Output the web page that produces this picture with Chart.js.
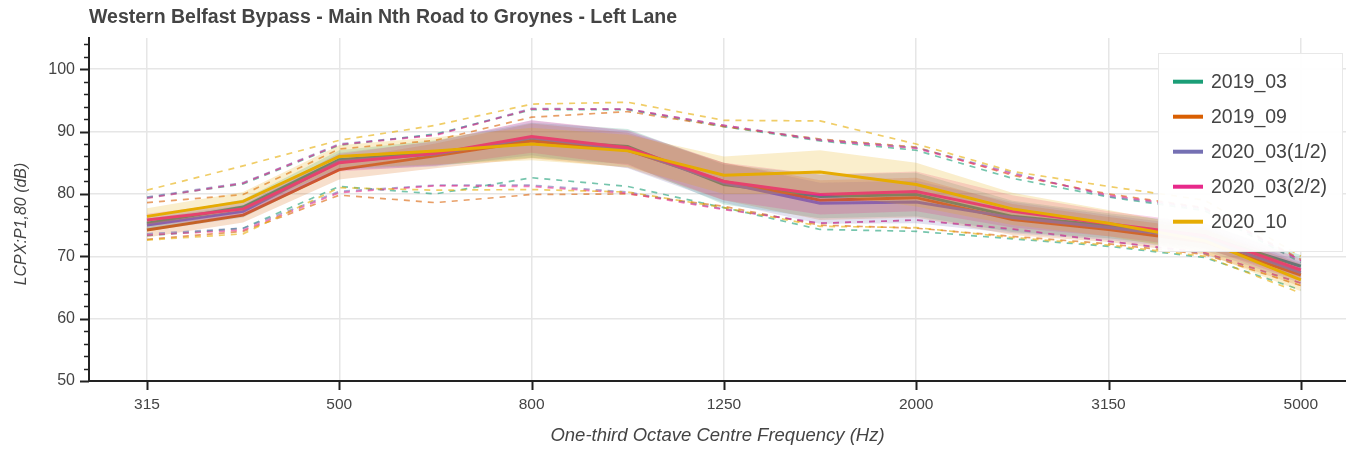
<!DOCTYPE html>
<html><head><meta charset="utf-8">
<script src="https://cdn.jsdelivr.net/npm/chart.js@4/dist/chart.umd.min.js"></script>
<style>html,body{margin:0;padding:0;background:#fff;}canvas{display:block;}</style>
</head><body>
<canvas id="c" width="1346" height="451"></canvas>
<script>
// ---------- text ----------
const TITLE = "Western Belfast Bypass - Main Nth Road to Groynes - Left Lane";
const X_TITLE = "One-third Octave Centre Frequency (Hz)";
const Y_TITLE = "LCPX:P1,80 (dB)";

// ---------- categories / ticks ----------
const categories = [315, 400, 500, 630, 800, 1000, 1250, 1600, 2000, 2500, 3150, 4000, 5000];
const xTickIndex = [0, 2, 4, 6, 8, 10, 12];
const yMajorTicks = [50, 60, 70, 80, 90, 100];
const yMinorTicks = [50,52,54,56,58,60,62,64,66,68,70,72,74,76,78,80,82,84,86,88,90,92,94,96,98,100,102,104];

// ---------- series ----------
const seriesNames = ["2019_03", "2019_09", "2020_03(1/2)", "2020_03(2/2)", "2020_10"];
const seriesColors = ["#1b9e77", "#d95f02", "#7570b3", "#e7298a", "#e6ab02"];

const mean_2019_03 = [75.3, 77.9, 85.5, 86.6, 88.6, 87.6, 81.5, 79.6, 79.9, 76.4, 74.9, 73.2, 68.4];
const bandHi_2019_03 = [76.3, 79.1, 87.0, 88.6, 91.4, 90.4, 84.7, 83.1, 83.4, 78.9, 76.9, 75.2, 70.2];
const bandLo_2019_03 = [74.3, 76.7, 84.0, 84.6, 85.8, 84.8, 78.3, 76.1, 76.4, 73.9, 72.9, 71.2, 66.6];
const max_2019_03 = [79.4, 81.6, 87.8, 89.6, 93.5, 93.5, 90.8, 88.5, 87.0, 82.5, 79.5, 77.3, 69.0];
const min_2019_03 = [73.3, 74.5, 81.2, 80.0, 82.6, 81.2, 77.8, 74.3, 74.0, 72.8, 71.6, 69.8, 64.6];

const mean_2019_09 = [74.2, 76.6, 83.9, 86.1, 88.5, 87.0, 82.0, 79.0, 79.4, 75.9, 74.3, 72.3, 67.0];
const bandHi_2019_09 = [75.4, 77.8, 85.5, 88.1, 91.3, 89.8, 85.0, 82.2, 82.6, 78.4, 76.3, 74.3, 68.8];
const bandLo_2019_09 = [73.0, 75.4, 82.3, 84.1, 85.7, 84.2, 79.0, 75.8, 76.2, 73.4, 72.3, 70.3, 65.2];
const max_2019_09 = [78.6, 79.9, 87.2, 88.6, 92.3, 93.2, 90.8, 88.8, 87.5, 83.0, 80.0, 77.8, 69.5];
const min_2019_09 = [72.7, 74.0, 79.8, 78.6, 79.9, 80.0, 78.0, 75.0, 74.5, 73.2, 72.0, 70.3, 65.3];

const mean_2020_03a = [75.0, 77.2, 85.2, 86.4, 89.0, 87.1, 81.8, 78.5, 78.7, 76.2, 74.6, 72.8, 67.4];
const bandHi_2020_03a = [76.0, 78.2, 86.6, 88.4, 91.8, 90.1, 85.0, 81.8, 82.1, 78.7, 76.6, 74.7, 69.1];
const bandLo_2020_03a = [74.0, 76.2, 83.8, 84.4, 86.2, 84.1, 78.6, 75.2, 75.3, 73.7, 72.6, 70.9, 65.7];
const max_2020_03a = [79.5, 81.8, 88.0, 89.5, 93.7, 93.6, 91.0, 88.7, 87.4, 83.4, 79.6, 77.6, 69.3];
const min_2020_03a = [73.6, 74.5, 80.4, 81.4, 81.4, 80.3, 77.6, 75.3, 75.8, 74.3, 72.4, 70.5, 65.7];

const mean_2020_03b = [75.8, 77.6, 85.0, 86.5, 89.2, 87.4, 82.0, 79.9, 80.4, 77.2, 75.2, 73.3, 67.8];
const bandHi_2020_03b = [76.8, 78.7, 86.4, 88.5, 91.8, 90.2, 85.0, 83.1, 83.6, 79.8, 77.2, 75.3, 69.6];
const bandLo_2020_03b = [74.8, 76.5, 83.6, 84.5, 86.6, 84.6, 79.0, 76.7, 77.2, 74.6, 73.2, 71.3, 66.0];
const max_2020_03b = [79.3, 81.7, 87.9, 89.4, 93.6, 93.6, 91.0, 88.6, 87.3, 83.2, 79.8, 77.7, 69.3];
const min_2020_03b = [73.4, 74.2, 80.2, 81.3, 81.2, 80.1, 77.5, 75.3, 75.8, 74.4, 72.4, 70.6, 65.7];

const mean_2020_10 = [76.4, 78.8, 86.0, 86.9, 88.0, 86.9, 83.0, 83.5, 81.5, 77.6, 75.3, 72.5, 66.2];
const bandHi_2020_10 = [77.7, 80.3, 87.8, 89.1, 90.6, 89.5, 86.0, 87.0, 85.0, 80.2, 77.4, 74.5, 68.0];
const bandLo_2020_10 = [75.1, 77.3, 84.2, 84.7, 85.4, 84.3, 80.0, 80.0, 78.0, 75.0, 73.2, 70.5, 64.4];
const max_2020_10 = [80.6, 84.5, 88.6, 91.0, 94.4, 94.7, 91.8, 91.7, 88.0, 83.6, 81.2, 79.0, 70.0];
const min_2020_10 = [72.6, 73.6, 81.0, 80.6, 80.7, 80.3, 77.8, 74.8, 74.6, 73.0, 71.8, 70.0, 64.1];

const seriesData = [
  {mean: mean_2019_03, hi: bandHi_2019_03, lo: bandLo_2019_03, max: max_2019_03, min: min_2019_03},
  {mean: mean_2019_09, hi: bandHi_2019_09, lo: bandLo_2019_09, max: max_2019_09, min: min_2019_09},
  {mean: mean_2020_03a, hi: bandHi_2020_03a, lo: bandLo_2020_03a, max: max_2020_03a, min: min_2020_03a},
  {mean: mean_2020_03b, hi: bandHi_2020_03b, lo: bandLo_2020_03b, max: max_2020_03b, min: min_2020_03b},
  {mean: mean_2020_10, hi: bandHi_2020_10, lo: bandLo_2020_10, max: max_2020_10, min: min_2020_10}
];

// ---------- build ----------
const FONT = "'Liberation Sans', Arial, Helvetica, sans-serif";
Chart.defaults.font.family = FONT;
function rgba(hex, a) {
  const n = parseInt(hex.slice(1), 16);
  return `rgba(${(n >> 16) & 255},${(n >> 8) & 255},${n & 255},${a})`;
}
const pts = arr => arr.map((v, i) => ({x: i, y: v}));

const datasets = [];
let ord = 1000;
seriesData.forEach((s, k) => {
  const c = seriesColors[k];
  const hiIdx = datasets.length;
  datasets.push({label: seriesNames[k] + " band", data: pts(s.hi), borderWidth: 0, pointRadius: 0,
    fill: {target: hiIdx + 1}, backgroundColor: rgba(c, 0.2), order: ord--});
  datasets.push({label: seriesNames[k] + " lo", data: pts(s.lo), borderWidth: 0, pointRadius: 0,
    fill: false, order: ord--});
  datasets.push({label: seriesNames[k], data: pts(s.mean), borderColor: c, borderWidth: 3,
    pointRadius: 0, fill: false, order: ord--});
  datasets.push({label: seriesNames[k] + " max", data: pts(s.max), borderColor: rgba(c, 0.6),
    borderWidth: 1.7, borderDash: [6, 6], pointRadius: 0, fill: false, order: ord--});
  datasets.push({label: seriesNames[k] + " min", data: pts(s.min), borderColor: rgba(c, 0.6),
    borderWidth: 1.7, borderDash: [6, 6], pointRadius: 0, fill: false, order: ord--});
});

const decor = {
  id: 'decor',
  afterDraw(chart) {
    const {ctx, chartArea: a, scales: {x, y}} = chart;
    ctx.save();
    // axis ticks
    ctx.strokeStyle = '#222';
    yMinorTicks.forEach(v => {
      const py = Math.round(y.getPixelForValue(v)) + 0.5;
      const major = yMajorTicks.includes(v);
      ctx.lineWidth = major ? 2 : 1.5;
      ctx.beginPath(); ctx.moveTo(a.left - (major ? 9 : 5), py); ctx.lineTo(a.left, py); ctx.stroke();
    });
    xTickIndex.forEach(i => {
      const px = Math.round(x.getPixelForValue(i)) + 0.5;
      ctx.lineWidth = 2;
      ctx.beginPath(); ctx.moveTo(px, a.bottom); ctx.lineTo(px, a.bottom + 9); ctx.stroke();
    });
    // title
    ctx.fillStyle = '#444';
    ctx.font = `bold 19.5px ${FONT}`;
    ctx.textAlign = 'left'; ctx.textBaseline = 'middle';
    ctx.fillText(TITLE, 89, 18);
    // y title
    ctx.save();
    ctx.translate(22, 224);
    ctx.rotate(-Math.PI / 2);
    ctx.font = `italic 16px ${FONT}`;
    ctx.textAlign = 'center';
    ctx.fillText(Y_TITLE, 0, 0);
    ctx.restore();
    // legend
    const lx = 1158, ly = 53, lw = 185, lh = 199;
    ctx.fillStyle = 'rgba(255,255,255,0.95)';
    ctx.fillRect(lx, ly, lw, lh);
    ctx.strokeStyle = '#e8e8e8'; ctx.lineWidth = 1;
    ctx.strokeRect(lx + 0.5, ly + 0.5, lw - 1, lh - 1);
    ctx.font = `19.5px ${FONT}`;
    ctx.textAlign = 'left'; ctx.textBaseline = 'middle';
    seriesNames.forEach((n, k) => {
      const cy = 81.7 + k * 35;
      ctx.strokeStyle = seriesColors[k]; ctx.lineWidth = 4;
      ctx.beginPath(); ctx.moveTo(1173, cy); ctx.lineTo(1203, cy); ctx.stroke();
      ctx.fillStyle = '#444';
      ctx.fillText(n, 1211, cy + 1);
    });
    ctx.restore();
  }
};

new Chart(document.getElementById('c'), {
  type: 'line',
  data: {datasets},
  options: {
    animation: false, responsive: false,
    layout: {padding: {top: 38, left: 0, right: 0, bottom: 0}},
    elements: {line: {tension: 0}},
    plugins: {legend: {display: false}, tooltip: {enabled: false}, title: {display: false}},
    scales: {
      x: {
        type: 'linear', min: -0.603, max: 12.47,
        afterBuildTicks: sc => { sc.ticks = xTickIndex.map(v => ({value: v})); },
        afterFit: sc => { sc.height = 70; },
        ticks: {callback: v => String(categories[v]), color: '#444', font: {size: 15.5}, padding: 14,
                autoSkip: false, maxRotation: 0},
        grid: {color: '#e6e6e6', lineWidth: 1.5, drawTicks: false},
        border: {color: '#222', width: 2},
        title: {display: true, text: X_TITLE, color: '#444', font: {size: 18.5, style: 'italic'},
                padding: {top: 4, bottom: 4}}
      },
      y: {
        min: 50, max: 105,
        afterBuildTicks: sc => { sc.ticks = yMinorTicks.map(v => ({value: v})); },
        afterFit: sc => { sc.width = 89; },
        ticks: {callback: v => (yMajorTicks.includes(v) ? String(v) : ''), color: '#444',
                font: {size: 16}, padding: 14, autoSkip: false},
        grid: {color: c => (c.tick && yMajorTicks.includes(c.tick.value) ? '#e6e6e6' : 'rgba(0,0,0,0)'),
               lineWidth: 1.5, drawTicks: false},
        border: {color: '#222', width: 2}
      }
    }
  },
  plugins: [decor]
});
</script>
</body></html>
